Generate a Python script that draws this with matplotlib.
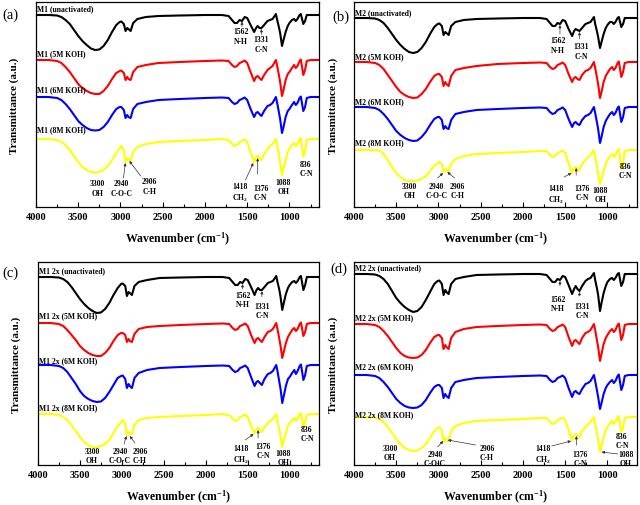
import matplotlib
matplotlib.use("Agg")
import matplotlib.pyplot as plt
from matplotlib.ticker import MultipleLocator

plt.rcParams['font.family'] = ['Liberation Serif', 'DejaVu Serif']
plt.rcParams['font.weight'] = 'bold'
plt.rcParams['mathtext.default'] = 'regular'

# ---------------- data ----------------
WAVENUMBER = [4000, 3850, 3750, 3700, 3650, 3600, 3550, 3500, 3450, 3400,
              3350, 3300, 3250, 3200, 3150, 3100, 3050, 3010, 2990, 2960,
              2940, 2920, 2906, 2880, 2850, 2800, 2700, 2550, 2300, 2000,
              1800, 1720, 1680, 1650, 1620, 1590, 1562, 1530, 1500, 1460,
              1418, 1395, 1376, 1355, 1331, 1300, 1260, 1230, 1200, 1160,
              1145, 1125, 1110, 1088, 1070, 1045, 1020, 1000, 970, 945,
              925, 905, 880, 865, 836, 815, 795, 750, 650]

# band depth below each trace's baseline (a.u.)
A_BLACK = [0, 0, 0.5, 2, 5, 9, 15, 21, 26, 30,
           33.5, 35, 34.5, 31, 25, 17, 10, 7, 6.5, 9,
           16, 13, 14, 16, 8, 4, 2, 1, 0.5, 0,
           0, 1, 5, 8, 8, 5, 6, 2, 3, 10,
           17, 13, 11, 13, 13, 10, 6, 5, 4, -1,
           5, 12, 18, 31, 25, 17, 11, 8, 5, 4,
           6, 4, 0, -1, 9, 6, 0, 0, 0]
A_RED = [0, 0, 1, 3, 7, 12, 18, 24, 28, 31,
         33, 34, 34, 31, 26, 19, 13, 11, 10.5, 13,
         20, 17, 19, 20, 12, 7, 5, 3, 2, 1,
         0.5, 1, 5, 7, 6, 3, 2, 0.5, 3, 12,
         21, 17, 16, 18, 20, 15, 10, 8, 6, 0,
         6, 15, 22, 36, 30, 20, 14, 12, 8, 5,
         8, 6, 1, -0.5, 15, 10, 1, 0, 0]
A_BLUE = [0, 0, 1, 3, 7, 12, 18, 24, 28, 31,
          33, 33.5, 33, 30, 25, 18, 12, 10, 10, 13,
          21, 18, 20, 21, 12, 7, 5, 3, 2, 1,
          0.5, 1, 5, 7, 6, 3, 2, 0.5, 3, 12,
          20, 16, 15, 17, 19, 14, 9, 8, 6, 0,
          6, 15, 22, 36, 30, 20, 14, 12, 8, 5,
          8, 6, 1, -0.5, 14, 10, 1, 0, 0]
A_YELLOW = [0, 0, 1, 3, 6, 11, 17, 23, 28, 31,
            33, 33.5, 33, 31, 27, 21, 14, 9, 7, 11,
            23, 19, 20, 22, 13, 8, 5, 3, 2, 1,
            0, 1, 5, 7, 6, 3, 2, 0.5, 3, 13,
            23, 18, 17, 19, 21, 15, 10, 7, 5, 0,
            7, 16, 24, 36, 30, 21, 13, 10, 6, 4,
            7, 5, 0, -1, 18, 12, 1, 0, 0]

B_BLACK = [0, 0, 0.5, 2, 5, 10, 16, 22, 27, 31,
           34, 35, 34, 30, 24, 16, 9, 6, 5.5, 8,
           17, 14, 15, 17, 8, 4, 2, 1, 0.5, 0,
           0, 1, 5, 8, 8, 5, 6, 2, 3, 11,
           18, 13, 11, 12, 13, 10, 6, 5, 4, -1,
           6, 13, 19, 30, 24, 16, 10, 7, 4, 4,
           6, 4, 0, -1, 9, 6, 0, 0, 0]
B_RED = [0, 0, 1, 3, 7, 13, 19, 25, 30, 33,
         35, 36, 35.5, 32, 27, 20, 14, 12, 12, 15,
         24, 20, 22, 24, 14, 8, 6, 4, 2, 1,
         0.5, 1, 5, 7, 6, 3, 2, 0.5, 3, 12,
         20, 16, 15, 17, 18, 13, 9, 8, 6, 0,
         6, 15, 22, 36, 30, 20, 14, 11, 7, 5,
         8, 6, 1, -0.5, 15, 10, 1, 0, 0]
B_BLUE = [0, 0, 1, 3, 7, 12, 18, 24, 28, 31,
          33, 34, 33.5, 30, 25, 18, 12, 10, 10, 13,
          22, 19, 21, 22, 13, 7, 5, 3, 2, 1,
          0.5, 1, 5, 7, 6, 3, 2, 0.5, 3, 12,
          20, 16, 15, 17, 18, 13, 9, 8, 6, 0,
          6, 15, 22, 36, 30, 20, 14, 11, 7, 5,
          8, 6, 1, -0.5, 15, 10, 1, 0, 0]
B_YELLOW = [0, 0, 0, 0.5, 4, 10, 17, 23, 27, 30,
            31, 31, 30.5, 29, 26, 21, 16, 13, 12, 14,
            22, 19, 20, 21, 14, 9, 6, 4, 3, 2,
            1, 1, 5, 7, 6, 3, 2, 0.5, 3, 13,
            23, 18, 17, 19, 20, 14, 10, 7, 5, 0,
            7, 16, 24, 34, 29, 21, 14, 10, 6, 4,
            7, 5, 0, -1, 19, 13, 1, 0, 0]

C_BLACK = [0, 0, 0.5, 2, 5, 10, 16, 22, 27, 31,
           34, 36, 35.5, 32, 26, 18, 11, 7, 6.5, 9,
           19, 15, 16, 18, 9, 5, 3, 1, 0.5, 0,
           0, 1, 5, 8, 8, 5, 6, 2, 3, 10,
           18, 13, 11, 13, 13, 10, 6, 5, 4, -1,
           5, 12, 19, 33, 26, 17, 11, 8, 5, 4,
           6, 4, 0, -1, 13, 8, 0, 0, 0]
C_RED = [0, 0, 1, 3, 7, 12, 17, 23, 27, 30,
         32, 33, 33, 30, 25, 18, 12, 10, 10, 12,
         19, 16, 18, 19, 11, 6, 4, 3, 2, 1,
         0.5, 1, 5, 7, 6, 3, 2, 0.5, 3, 12,
         20, 16, 15, 17, 19, 14, 9, 8, 6, 0,
         6, 15, 22, 35, 29, 20, 14, 11, 7, 5,
         8, 6, 1, -0.5, 13, 9, 1, 0, 0]
C_BLUE = [0, 0, 1, 3, 7, 13, 19, 26, 31, 34,
          36, 37, 36.5, 33, 27, 20, 13, 11, 10.5, 14,
          23, 19, 21, 23, 13, 8, 5, 3, 2, 1,
          0.5, 1, 5, 7, 6, 3, 2, 0.5, 3, 12,
          21, 17, 16, 18, 20, 14, 9, 8, 6, 0,
          6, 16, 23, 38, 31, 21, 14, 12, 8, 5,
          9, 6, 1, -0.5, 15, 10, 1, 0, 0]
C_YELLOW = [0, 0, 1, 3, 6, 11, 17, 23, 28, 31,
            33, 33, 32, 30, 26, 19, 12, 8, 6, 10,
            21, 18, 19, 20, 11, 6, 4, 3, 2, 1,
            0, 1, 5, 7, 6, 3, 2, 0.5, 3, 12,
            19, 15, 14, 16, 18, 13, 9, 7, 5, 0,
            7, 15, 22, 33, 27, 19, 12, 9, 6, 4,
            7, 5, 0, -1, 13, 9, 1, 0, 0]

D_BLACK = [0, 0, 0.5, 2, 5, 10, 17, 24, 29, 33,
           36, 38, 37, 33, 26, 18, 10, 7, 6.5, 10,
           21, 16, 18, 20, 10, 5, 3, 1, 0.5, 0,
           0, 1, 5, 8, 8, 5, 6, 2, 3, 11,
           20, 15, 12, 15, 17, 12, 7, 5, 4, -1,
           6, 14, 21, 37, 29, 19, 12, 8, 5, 4,
           6, 4, 0, -1, 12, 8, 0, 0, 0]
D_RED = [0, 0, 1, 3, 7, 12, 18, 24, 29, 32,
         33.5, 34, 33.5, 31, 26, 19, 13, 11, 11, 14,
         25, 21, 23, 25, 14, 8, 5, 3, 2, 1,
         0.5, 1, 5, 7, 6, 3, 2, 0.5, 3, 13,
         22, 17, 16, 18, 20, 14, 9, 8, 6, 0,
         6, 16, 23, 37, 30, 20, 14, 11, 7, 5,
         8, 6, 1, -0.5, 16, 11, 1, 0, 0]
D_BLUE = [0, 0, 1, 3, 7, 12, 18, 24, 28, 31,
          32.5, 33, 32.5, 30, 25, 18, 12, 10, 10, 13,
          23, 19, 21, 23, 13, 7, 5, 3, 2, 1,
          0.5, 1, 5, 7, 6, 3, 2, 0.5, 3, 13,
          22, 17, 16, 18, 19, 14, 9, 8, 6, 0,
          6, 15, 22, 34, 28, 19, 13, 10, 7, 5,
          8, 6, 1, -0.5, 15, 10, 1, 0, 0]
D_YELLOW = [0, 0, 0.5, 2, 5, 10, 16, 22, 27, 31,
            33, 34, 33.5, 31, 27, 21, 14, 11, 10, 13,
            25, 21, 23, 24, 14, 9, 6, 4, 3, 2,
            1, 1, 5, 7, 6, 3, 2, 0.5, 3, 13,
            23, 18, 17, 19, 20, 14, 10, 7, 5, 0,
            7, 16, 23, 35, 29, 20, 13, 10, 6, 4,
            7, 5, 0, -1, 15, 11, 1, 0, 0]

SAMPLE_A = ['M1 (unactivated)', 'M1 (5M KOH)', 'M1 (6M KOH)', 'M1 (8M KOH)']
SAMPLE_B = ['M2 (unactivated)', 'M2 (5M KOH)', 'M2 (6M KOH)', 'M2 (8M KOH)']
SAMPLE_C = ['M1 2x (unactivated)', 'M1 2x (5M KOH)', 'M1 2x (6M KOH)', 'M1 2x (8M KOH)']
SAMPLE_D = ['M2 2x (unactivated)', 'M2 2x (5M KOH)', 'M2 2x (6M KOH)', 'M2 2x (8M KOH)']

# vertical offsets of the stacked traces (a.u.)
OFFSET_A = [192, 147, 110, 68]
OFFSET_B = [189, 145, 100, 57]
OFFSET_C = [188, 142, 100, 51]
OFFSET_D = [191, 141, 90, 48]

COLORS = ['#000000', '#ff0000', '#0000ff', '#ffff00']

# ---------------- layout ----------------
W, H = 640, 506
fig = plt.figure(figsize=(W / 100, H / 100), dpi=100)

panels = [
    dict(letter='(a)', box=(36, 3, 319, 208), ylim=205, letter_xy=(10, 15),
         curves=[A_BLACK, A_RED, A_BLUE, A_YELLOW], offsets=OFFSET_A, names=SAMPLE_A,
         name_y=[199, 154, 118, 78],
         notes=[('1562\nN-H', 1576, 180, (1562, 180.5), (1562, 185.5)),
                ('1331\nC-N', 1330, 172, (1331, 172.5), (1331, 178)),
                ('3300\nOH', 3270, 28, None, None),
                ('2940\nC-O-C', 2988, 28, (2965, 29), (2942, 44)),
                ('2906\nC-H', 2659, 30, (2760, 31), (2895, 46)),
                ('1418\nCH$_2$', 1588, 25, (1520, 27), (1428, 44)),
                ('1376\nC-N', 1341, 23, (1376, 33), (1376, 49)),
                ('1088\nOH', 1071, 29, None, None),
                ('836\nC-N', 805, 47, None, None)]),
    dict(letter='(b)', box=(354, 3, 637, 208), ylim=205, letter_xy=(341, 17),
         curves=[B_BLACK, B_RED, B_BLUE, B_YELLOW], offsets=OFFSET_B, names=SAMPLE_B,
         name_y=[195, 151, 106, 65],
         notes=[('1562\nN-H', 1583, 171, (1562, 173), (1562, 182)),
                ('1331\nC-N', 1311, 165, (1331, 168), (1331, 175)),
                ('3300\nOH', 3340, 25, None, None),
                ('2940\nC-O-C', 3021, 25, (3010, 29), (2945, 34)),
                ('2906\nC-H', 2774, 25, (2810, 29), (2895, 35)),
                ('1418\nCH$_2$', 1606, 23, (1512, 30), (1425, 34)),
                ('1376\nC-N', 1300, 23, (1370, 32), (1370, 39)),
                ('1088\nOH', 1087, 21, None, None),
                ('836\nC-N', 790, 45, None, None)]),
    dict(letter='(c)', box=(38, 263, 319, 466), ylim=203, letter_xy=(10, 273),
         curves=[C_BLACK, C_RED, C_BLUE, C_YELLOW], offsets=OFFSET_C, names=SAMPLE_C,
         name_y=[195, 150, 105, 58],
         notes=[('1562\nN-H', 1557, 174, (1562, 176), (1562, 181)),
                ('1331\nC-N', 1330, 163, (1331, 168), (1331, 174)),
                ('3300\nOH', 3356, 18, None, None),
                ('2940\nC-O-C', 3023, 18, (2975, 21), (2945, 29)),
                ('2906\nC-H', 2784, 18, (2844, 22), (2905, 29)),
                ('1418\nCH$_2$', 1580, 21, (1530, 25), (1430, 31)),
                ('1376\nC-N', 1314, 23, (1376, 27), (1376, 35)),
                ('1088\nOH', 1077, 16, None, None),
                ('836\nC-N', 794, 40, None, None)]),
    dict(letter='(d)', box=(354, 263, 637, 466), ylim=203, letter_xy=(339, 269),
         curves=[D_BLACK, D_RED, D_BLUE, D_YELLOW], offsets=OFFSET_D, names=SAMPLE_D,
         name_y=[198, 148, 99, 51],
         notes=[('1562\nN-H', 1586, 170, (1562, 179), (1562, 184)),
                ('1331\nC-N', 1302, 163, (1331, 169), (1331, 173)),
                ('3300\nOH', 3574, 21, None, None),
                ('2940\nC-O-C', 3041, 15, (3010, 18), (2945, 24)),
                ('2906\nC-H', 2426, 21, (2560, 20), (2890, 25)),
                ('1418\nCH$_2$', 1763, 21, (1660, 19), (1430, 24)),
                ('1376\nC-N', 1326, 15, (1368, 20), (1368, 29)),
                ('1088\nOH', 780, 15, (875, 11), (1070, 13)),
                ('836\nC-N', 828, 33, None, None)]),
]

for p in panels:
    l, t, r, b = p['box']
    ax = fig.add_axes([l / W, 1 - b / H, (r - l) / W, (b - t) / H])
    for curve, off, col in zip(p['curves'], p['offsets'], COLORS):
        ax.plot(WAVENUMBER, [off - d for d in curve], color=col, lw=1.5,
                solid_joinstyle='round')
    ax.set_xlim(4000, 650)
    ax.set_ylim(0, p['ylim'])
    ax.set_yticks([])
    ax.xaxis.set_major_locator(MultipleLocator(500))
    ax.xaxis.set_minor_locator(MultipleLocator(250))
    ax.tick_params(axis='x', which='major', direction='in', length=3.5, width=0.8,
                   labelsize=7.5, pad=3.5)
    ax.tick_params(axis='x', which='minor', direction='in', length=2, width=0.8)
    for lab in ax.get_xticklabels():
        lab.set_fontweight('bold')
    for s in ax.spines.values():
        s.set_linewidth(0.9)
    ax.set_xlabel('Wavenumber (cm$^{-1}$)', fontsize=8.5, fontweight='bold')
    ax.set_ylabel('Transmittance (a.u.)', fontsize=8, fontweight='bold')
    ax.xaxis.set_label_coords(0.5, -23 / (b - t))
    ax.yaxis.set_label_coords(-16.5 / (r - l), 0.5)

    for name, y in zip(p['names'], p['name_y']):
        ax.text(3985, y, name, fontsize=5.5, fontweight='bold', ha='left', va='center')

    for txt, x, y, tail, tip in p['notes']:
        ax.text(x, y, txt, fontsize=5.5, fontweight='bold', ha='center', va='top',
                linespacing=1.25)
        if tail is not None:
            ax.annotate('', xy=tip, xytext=tail,
                        arrowprops=dict(arrowstyle='-|>', lw=0.5, color='#333333',
                                        mutation_scale=4, shrinkA=0, shrinkB=0))

    lx, ly = p['letter_xy']
    fig.text(lx / W, 1 - ly / H, p['letter'], fontsize=10.5, fontweight='normal',
             ha='center', va='center')

fig.savefig('out.png', dpi=100)
